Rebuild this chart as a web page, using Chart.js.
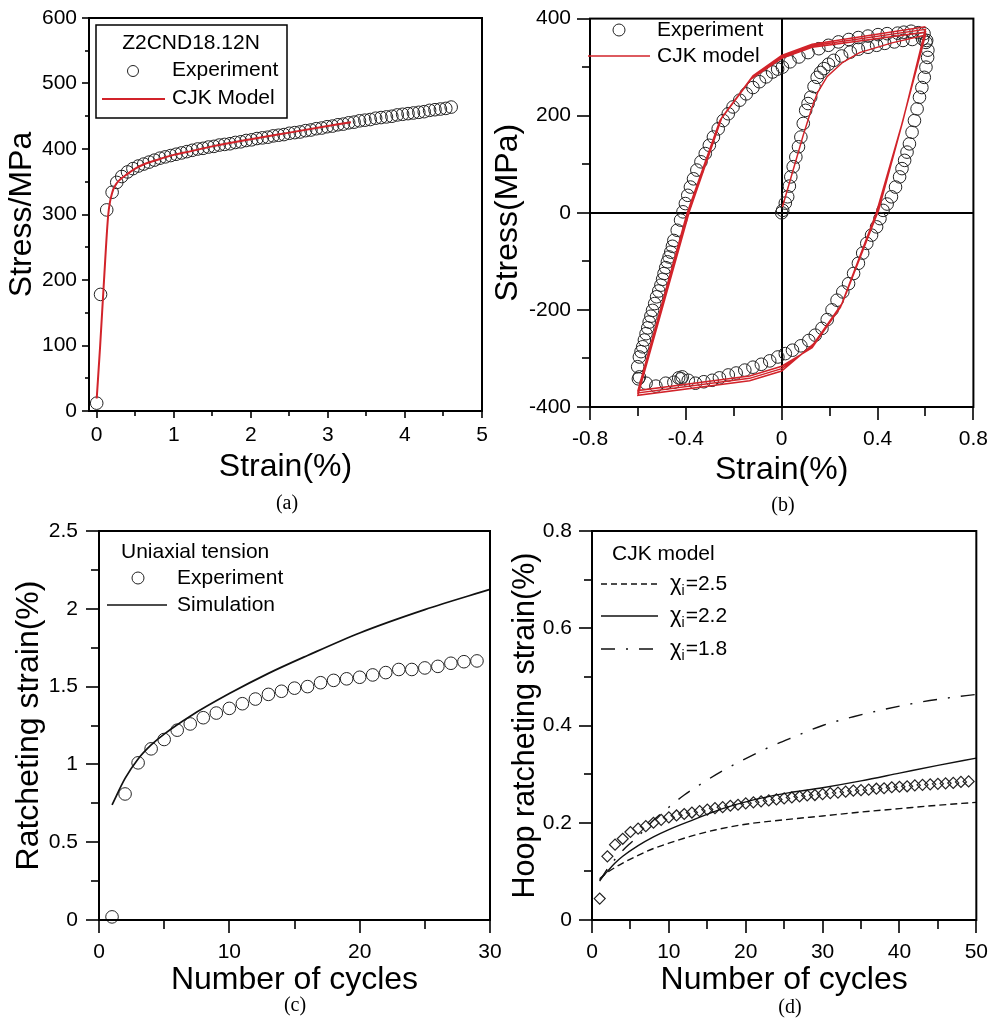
<!DOCTYPE html>
<html><head><meta charset="utf-8">
<script src="https://cdn.jsdelivr.net/npm/chart.js@4.4.1/dist/chart.umd.min.js"></script>
<style>
html,body{margin:0;padding:0;background:#fff}
body{width:995px;height:1025px;position:relative;overflow:hidden}
canvas{position:absolute}
.cap{position:absolute;font-family:"Liberation Serif","Times New Roman",serif;font-size:20px;color:#000;transform:translate(-50%,-50%);white-space:nowrap}
</style></head><body>
<canvas id="ca" width="497" height="490" style="left:0;top:0"></canvas>
<canvas id="cb" width="510" height="490" style="left:485px;top:0"></canvas>
<canvas id="cc" width="520" height="510" style="left:0;top:495px"></canvas>
<canvas id="cd" width="498" height="510" style="left:497px;top:495px"></canvas>
<div class="cap" style="left:287px;top:502px">(a)</div>
<div class="cap" style="left:783px;top:504px">(b)</div>
<div class="cap" style="left:295px;top:1004px">(c)</div>
<div class="cap" style="left:790px;top:1006px">(d)</div>
<script>
// ---------- Panel (a): monotonic tension ----------
const aExpStrain = [0.00,0.05,0.13,0.20,0.26,0.325,0.40,0.47,0.54,0.61,0.68,0.75,0.82,0.89,0.96,1.03,1.10,1.17,1.24,1.31,1.38,1.45,1.52,1.59,1.66,1.73,1.80,1.87,1.94,2.01,2.08,2.15,2.22,2.29,2.36,2.43,2.50,2.57,2.64,2.71,2.78,2.85,2.92,2.99,3.06,3.13,3.20,3.27,3.34,3.41,3.48,3.55,3.62,3.69,3.76,3.83,3.90,3.97,4.04,4.11,4.18,4.25,4.32,4.39,4.46,4.53,4.60];
const aExpStress = [12,178,307,334,349,358,365,370,374,377,380,383,386,388,390,392,394,396,398,400,401,403,404,406,407,408,410,411,413,414,416,417,418,420,421,422,424,425,426,428,429,431,432,434,435,437,438,440,441,443,444,445,447,448,449,450,452,453,454,455,456,457,459,460,461,462,464];
const aModelStrain = [0.00,0.045,0.095,0.15,0.20,0.25,0.30,0.40,0.50,0.60,0.80,1.00,1.20,1.50,2.00,2.50,3.00,3.30];
const aModelStress = [19,100,200,300,333,346,353,362,370,376,384,391,396,404,415,425,435,441];
const aXTicks = [0,0.5,1,1.5,2,2.5,3,3.5,4,4.5,5];
const aXLabels = [0,1,2,3,4,5];
const aYTicks = [0,50,100,150,200,250,300,350,400,450,500,550,600];
const aYLabels = [0,100,200,300,400,500,600];

// ---------- Panel (b): hysteresis loops ----------
const bExpStrain = [0.000,0.004,0.015,0.025,0.032,0.038,0.048,0.059,0.070,0.080,0.090,0.100,0.110,0.121,0.135,0.148,0.162,0.176,0.195,0.217,0.250,0.286,0.320,0.360,0.396,0.430,0.470,0.506,0.545,0.588,
 0.602,0.609,0.602,0.595,0.585,0.575,0.565,0.554,0.544,0.533,0.523,0.513,0.502,0.492,0.475,0.458,0.440,0.423,0.410,0.396,0.375,0.355,0.338,0.320,0.300,0.279,0.255,0.231,0.210,0.190,0.168,0.140,0.113,0.080,0.045,0.015,-0.016,-0.050,-0.085,-0.120,-0.154,-0.190,-0.223,-0.260,-0.290,-0.325,-0.360,-0.390,-0.415,-0.420,-0.430,-0.450,-0.484,-0.525,-0.566,-0.594,-0.598,
 -0.601,-0.594,-0.587,-0.580,-0.573,-0.566,-0.559,-0.553,-0.546,-0.539,-0.530,-0.522,-0.513,-0.504,-0.497,-0.491,-0.484,-0.477,-0.470,-0.463,-0.456,-0.450,-0.436,-0.422,-0.412,-0.402,-0.392,-0.381,-0.368,-0.354,-0.337,-0.319,-0.302,-0.285,-0.265,-0.244,-0.223,-0.203,-0.175,-0.148,-0.120,-0.093,-0.065,-0.038,-0.017,0.003,0.035,0.072,0.110,0.155,0.195,0.237,0.280,0.320,0.360,0.402,0.440,0.484,0.510,0.540,0.570,0.594,0.605,0.610];
const bExpStress = [0,5,20,33,55,74,95,115,136,156,184,211,225,238,260,279,289,297,306,314,323,331,337,341,345,349,352,355,357,358,
 351,320,300,279,258,238,214,190,166,142,125,108,91,74,53,33,18,5,-12,-29,-46,-63,-83,-104,-125,-146,-163,-180,-200,-220,-238,-252,-263,-274,-283,-290,-297,-305,-312,-318,-324,-330,-334,-340,-345,-348,-351,-345,-338,-342,-340,-349,-351,-357,-351,-338,-342,
 -317,-297,-286,-276,-262,-249,-237,-225,-213,-201,-187,-173,-161,-149,-137,-125,-113,-101,-91,-81,-69,-57,-36,-15,2,19,36,53,70,88,105,122,139,156,173,190,204,218,232,245,258,270,280,290,296,300,311,321,330,338,345,352,357,361,364,367,369,370,372,374,371,369,355,335];
const bModelStrain = [0.003,0.09,0.125,0.15,0.19,0.255,0.325,0.46,0.60,
 0.50,0.395,0.245,0.127,0.0,-0.134,-0.60,
 -0.395,-0.258,-0.127,0.0,0.127,0.60,
 0.503,0.40,0.249,0.13,0.0,-0.134,-0.60,
 -0.39,-0.254,-0.124,0.0,0.127,0.60,
 0.506,0.405,0.253,0.133,0.0,-0.134,-0.60,
 -0.385,-0.25,-0.12,0.0,0.127,0.60];
const bModelStress = [12,160,215,248,281,310,330,350,366,
 180,0,-195,-278,-316,-336,-366,
 -1,190,276,318,341,372,
 185,3,-190,-274,-321,-341,-371,
 1,193,279,321,344,378,
 190,6,-186,-270,-326,-346,-376,
 3,196,282,324,347,383];
const bXTicks = [-0.8,-0.6,-0.4,-0.2,0,0.2,0.4,0.6,0.8];
const bXLabels = [-0.8,-0.4,0,0.4,0.8];
const bYTicks = [-400,-300,-200,-100,0,100,200,300,400];
const bYLabels = [-400,-200,0,200,400];

// ---------- Panel (c): uniaxial ratcheting ----------
const cExpCycles = [1,2,3,4,5,6,7,8,9,10,11,12,13,14,15,16,17,18,19,20,21,22,23,24,25,26,27,28,29];
const cExpStrain = [0.02,0.81,1.01,1.10,1.16,1.22,1.26,1.30,1.33,1.36,1.39,1.42,1.45,1.47,1.49,1.50,1.525,1.54,1.55,1.56,1.575,1.59,1.61,1.61,1.62,1.63,1.65,1.66,1.665];
const cSimCycles = [1,2,3,4,5,7,10,13,16,20,25,30];
const cSimStrain = [0.74,0.91,1.035,1.125,1.195,1.31,1.455,1.585,1.70,1.845,1.995,2.125];
const cXTicks = [0,5,10,15,20,25,30];
const cXLabels = [0,10,20,30];
const cYTicks = [0,0.25,0.5,0.75,1,1.25,1.5,1.75,2,2.25,2.5];
const cYLabels = [0,0.5,1,1.5,2,2.5];

// ---------- Panel (d): hoop ratcheting ----------
const dExpCycles = [1,2,3,4,5,6,7,8,9,10,11,12,13,14,15,16,17,18,19,20,21,22,23,24,25,26,27,28,29,30,31,32,33,34,35,36,37,38,39,40,41,42,43,44,45,46,47,48,49];
const dExpStrain = [0.044,0.131,0.155,0.167,0.181,0.188,0.193,0.200,0.206,0.211,0.215,0.218,0.221,0.224,0.227,0.230,0.232,0.235,0.237,0.240,0.242,0.244,0.246,0.248,0.250,0.252,0.254,0.256,0.257,0.259,0.261,0.262,0.264,0.266,0.267,0.268,0.270,0.271,0.273,0.274,0.275,0.277,0.278,0.279,0.280,0.281,0.282,0.284,0.285];
const dChi25Cycles = [1,2,3,4,6,8,10,13,16,20,25,30,35,40,45,50];
const dChi25Strain = [0.085,0.098,0.108,0.117,0.133,0.147,0.158,0.173,0.185,0.197,0.206,0.214,0.222,0.229,0.236,0.242];
const dChi22Cycles = [1,2,3,4,6,8,10,13,17,21,25,30,35,40,45,50];
const dChi22Strain = [0.082,0.100,0.117,0.131,0.153,0.171,0.186,0.205,0.229,0.247,0.260,0.272,0.286,0.302,0.318,0.333];
const dChi18Cycles = [1,2,3,4,5,6,8,10,12,14,17,20,23,26,30,34,38,42,46,50];
const dChi18Strain = [0.080,0.105,0.125,0.143,0.158,0.172,0.205,0.232,0.257,0.278,0.307,0.332,0.355,0.375,0.400,0.418,0.433,0.446,0.456,0.464];
const dXTicks = [0,5,10,15,20,25,30,35,40,45,50];
const dXLabels = [0,10,20,30,40,50];
const dYTicks = [0,0.1,0.2,0.3,0.4,0.5,0.6,0.7,0.8];
const dYLabels = [0,0.2,0.4,0.6,0.8];

// ---------- helpers ----------
const SANS = '"Liberation Sans", Arial, sans-serif';
const RED = '#d2232a';
Chart.defaults.font.family = SANS;
const pts = (xs, ys) => xs.map((x, i) => ({x: x, y: ys[i]}));

function axis(o) {
  const horiz = o.pos === 'bottom';
  const isMinor = c => c.tick && !o.labels.includes(c.tick.value);
  return {
    type: 'linear', position: o.pos, min: o.min, max: o.max,
    afterBuildTicks: s => { s.ticks = o.ticks.map(v => ({value: v})); },
    afterFit: s => { if (horiz) s.height = o.size; else s.width = o.size; },
    ticks: {
      autoSkip: false, maxRotation: 0, minRotation: 0, padding: o.pad, color: '#000',
      font: {family: SANS, size: 21},
      callback: v => o.labels.includes(v) ? String(v) : ''
    },
    grid: {
      drawOnChartArea: !!o.zero,
      color: c => (o.zero && c.tick && c.tick.value === 0) ? '#000' : 'rgba(0,0,0,0)',
      lineWidth: 2, tickLength: o.tl, tickColor: '#000', tickWidth: 1.6,
      tickBorderDash: c => isMinor(c) ? (horiz ? [o.mtl, 100] : [o.mtl, o.tl - o.mtl]) : [],
      tickBorderDashOffset: c => (isMinor(c) && !horiz) ? o.mtl : 0
    },
    border: {display: true, color: '#000', width: 2},
    title: {
      display: true, text: o.title, color: '#000',
      font: {family: SANS, size: o.tsize || 32},
      padding: horiz ? {top: 0, bottom: o.tpad} : {top: o.tpad, bottom: 0}
    }
  };
}

const framePlugin = {
  id: 'frame',
  afterDatasetsDraw(chart) {
    const a = chart.chartArea, ctx = chart.ctx;
    ctx.save(); ctx.strokeStyle = '#000'; ctx.lineWidth = 2;
    ctx.strokeRect(a.left, a.top, a.right - a.left, a.bottom - a.top);
    ctx.restore();
  }
};

function legendPlugin(items) {
  return {
    id: 'customLegend',
    afterDraw(chart) {
      const ctx = chart.ctx; ctx.save();
      for (const it of items) {
        ctx.setLineDash(it.dash || []);
        if (it.t === 'box') {
          ctx.strokeStyle = '#000'; ctx.lineWidth = 1.5; ctx.strokeRect(it.x, it.y, it.w, it.h);
        } else if (it.t === 'text') {
          ctx.fillStyle = '#000'; ctx.font = (it.size || 21) + 'px ' + SANS;
          ctx.textAlign = it.align || 'left'; ctx.textBaseline = 'middle';
          ctx.fillText(it.s, it.x, it.y);
        } else if (it.t === 'circle') {
          ctx.strokeStyle = '#222'; ctx.lineWidth = 1;
          ctx.beginPath(); ctx.arc(it.x, it.y, it.r, 0, Math.PI * 2); ctx.stroke();
        } else if (it.t === 'line') {
          ctx.strokeStyle = it.color || '#000'; ctx.lineWidth = it.w || 1.5;
          ctx.beginPath(); ctx.moveTo(it.x1, it.y); ctx.lineTo(it.x2, it.y); ctx.stroke();
        } else if (it.t === 'chi') {
          ctx.fillStyle = '#000'; ctx.textAlign = 'left'; ctx.textBaseline = 'middle';
          ctx.font = '22px ' + SANS; ctx.fillText('\u03C7', it.x, it.y);
          const w1 = ctx.measureText('\u03C7').width;
          ctx.font = '14px ' + SANS; ctx.fillText('i', it.x + w1, it.y + 7);
          const w2 = ctx.measureText('i').width;
          ctx.font = '21px ' + SANS; ctx.fillText(it.s, it.x + w1 + w2 + 1, it.y);
        }
      }
      ctx.restore();
    }
  };
}

function makeChart(id, cfg) {
  return new Chart(document.getElementById(id), {
    type: 'scatter',
    data: {datasets: cfg.datasets},
    options: {
      responsive: false, animation: false, devicePixelRatio: 1, events: [],
      layout: {padding: cfg.padding},
      plugins: {legend: {display: false}, tooltip: {enabled: false}},
      scales: {x: cfg.x, y: cfg.y}
    },
    plugins: [framePlugin, legendPlugin(cfg.legend)]
  });
}

const circleSet = (data, r) => ({
  data: data, showLine: false, pointStyle: 'circle', pointRadius: r, pointBorderColor: '#222',
  pointBorderWidth: 1, pointBackgroundColor: 'rgba(0,0,0,0)', clip: false, order: 2
});
const lineSet = (data, color, w, extra) => Object.assign({
  data: data, showLine: true, borderColor: color, borderWidth: w, pointRadius: 0,
  fill: false, clip: false, order: 1
}, extra || {});

// (a)
makeChart('ca', {
  padding: {left: 0, top: 18, right: 15, bottom: 0},
  datasets: [
    lineSet(pts(aModelStrain, aModelStress), RED, 2, {cubicInterpolationMode: 'monotone'}),
    circleSet(pts(aExpStrain, aExpStress), 6.3)
  ],
  x: axis({pos: 'bottom', min: -0.1, max: 5, ticks: aXTicks, labels: aXLabels, size: 79, pad: 5, tl: 7, mtl: 4, title: 'Strain(%)', tpad: 4}),
  y: axis({pos: 'left', min: 0, max: 600, ticks: aYTicks, labels: aYLabels, size: 89, pad: 5, tl: 7, mtl: 4, title: 'Stress/MPa', tpad: 3}),
  legend: [
    {t: 'box', x: 96, y: 25, w: 191, h: 93},
    {t: 'text', s: 'Z2CND18.12N', x: 191, y: 43, align: 'center'},
    {t: 'circle', x: 133, y: 71, r: 5.5},
    {t: 'text', s: 'Experiment', x: 172, y: 70},
    {t: 'line', x1: 102, x2: 165, y: 99, color: RED, w: 2},
    {t: 'text', s: 'CJK Model', x: 172, y: 98}
  ]
});

// (b)
makeChart('cb', {
  padding: {left: 0, top: 18, right: 17, bottom: 0},
  datasets: [
    lineSet(pts(bModelStrain, bModelStress), RED, 1.5, {tension: 0}),
    circleSet(pts(bExpStrain, bExpStress), 6.3)
  ],
  x: axis({pos: 'bottom', min: -0.8, max: 0.8, ticks: bXTicks, labels: bXLabels, size: 83, pad: 7, tl: 13, mtl: 8, title: 'Strain(%)', tpad: 1, zero: true}),
  y: axis({pos: 'left', min: -400, max: 400, ticks: bYTicks, labels: bYLabels, size: 105, pad: 6, tl: 13, mtl: 8, title: 'Stress(MPa)', tpad: 4, zero: true}),
  legend: [
    {t: 'circle', x: 134, y: 30, r: 6},
    {t: 'text', s: 'Experiment', x: 172, y: 30},
    {t: 'line', x1: 103, x2: 165, y: 56, color: RED, w: 1.5},
    {t: 'text', s: 'CJK model', x: 172, y: 56}
  ]
});

// (c)
makeChart('cc', {
  padding: {left: 0, top: 36, right: 30, bottom: 0},
  datasets: [
    lineSet(pts(cSimCycles, cSimStrain), '#111', 1.7, {cubicInterpolationMode: 'monotone'}),
    circleSet(pts(cExpCycles, cExpStrain), 6.3)
  ],
  x: axis({pos: 'bottom', min: 0, max: 30, ticks: cXTicks, labels: cXLabels, size: 85, pad: 7, tl: 13, mtl: 8, title: 'Number of cycles', tpad: 6}),
  y: axis({pos: 'left', min: 0, max: 2.5, ticks: cYTicks, labels: cYLabels, size: 99, pad: 8, tl: 13, mtl: 8, title: 'Ratcheting strain(%)', tpad: 10}),
  legend: [
    {t: 'text', s: 'Uniaxial tension', x: 121, y: 57},
    {t: 'circle', x: 138, y: 83, r: 6},
    {t: 'text', s: 'Experiment', x: 177, y: 83},
    {t: 'line', x1: 107, x2: 167, y: 110, color: '#111', w: 1.7},
    {t: 'text', s: 'Simulation', x: 177, y: 110}
  ]
});

// (d)
makeChart('cd', {
  padding: {left: 0, top: 36, right: 15, bottom: 0},
  datasets: [
    lineSet(pts(dChi25Cycles, dChi25Strain), '#111', 1.4, {cubicInterpolationMode: 'monotone', borderDash: [7, 4]}),
    lineSet(pts(dChi22Cycles, dChi22Strain), '#111', 1.4, {cubicInterpolationMode: 'monotone'}),
    lineSet(pts(dChi18Cycles, dChi18Strain), '#111', 1.4, {cubicInterpolationMode: 'monotone', borderDash: [14, 11, 2, 11]}),
    {data: pts(dExpCycles, dExpStrain), showLine: false, pointStyle: 'rectRot', pointRadius: 5.5,
     pointBorderColor: '#222', pointBorderWidth: 1.2, pointBackgroundColor: 'rgba(0,0,0,0)', clip: false, order: 2}
  ],
  x: axis({pos: 'bottom', min: 0, max: 50, ticks: dXTicks, labels: dXLabels, size: 85, pad: 7, tl: 13, mtl: 8, title: 'Number of cycles', tpad: 6}),
  y: axis({pos: 'left', min: 0, max: 0.8, ticks: dYTicks, labels: dYLabels, size: 95, pad: 7, tl: 13, mtl: 8, title: 'Hoop ratcheting strain(%)', tpad: 10, tsize: 30.5}),
  legend: [
    {t: 'text', s: 'CJK model', x: 115, y: 59},
    {t: 'line', x1: 104, x2: 161, y: 89, color: '#111', w: 1.4, dash: [6, 4]},
    {t: 'chi', s: '=2.5', x: 173, y: 89},
    {t: 'line', x1: 104, x2: 161, y: 121, color: '#111', w: 1.4},
    {t: 'chi', s: '=2.2', x: 173, y: 121},
    {t: 'line', x1: 104, x2: 161, y: 154, color: '#111', w: 1.4, dash: [14, 11, 2, 11]},
    {t: 'chi', s: '=1.8', x: 173, y: 154}
  ]
});
</script>
</body></html>
